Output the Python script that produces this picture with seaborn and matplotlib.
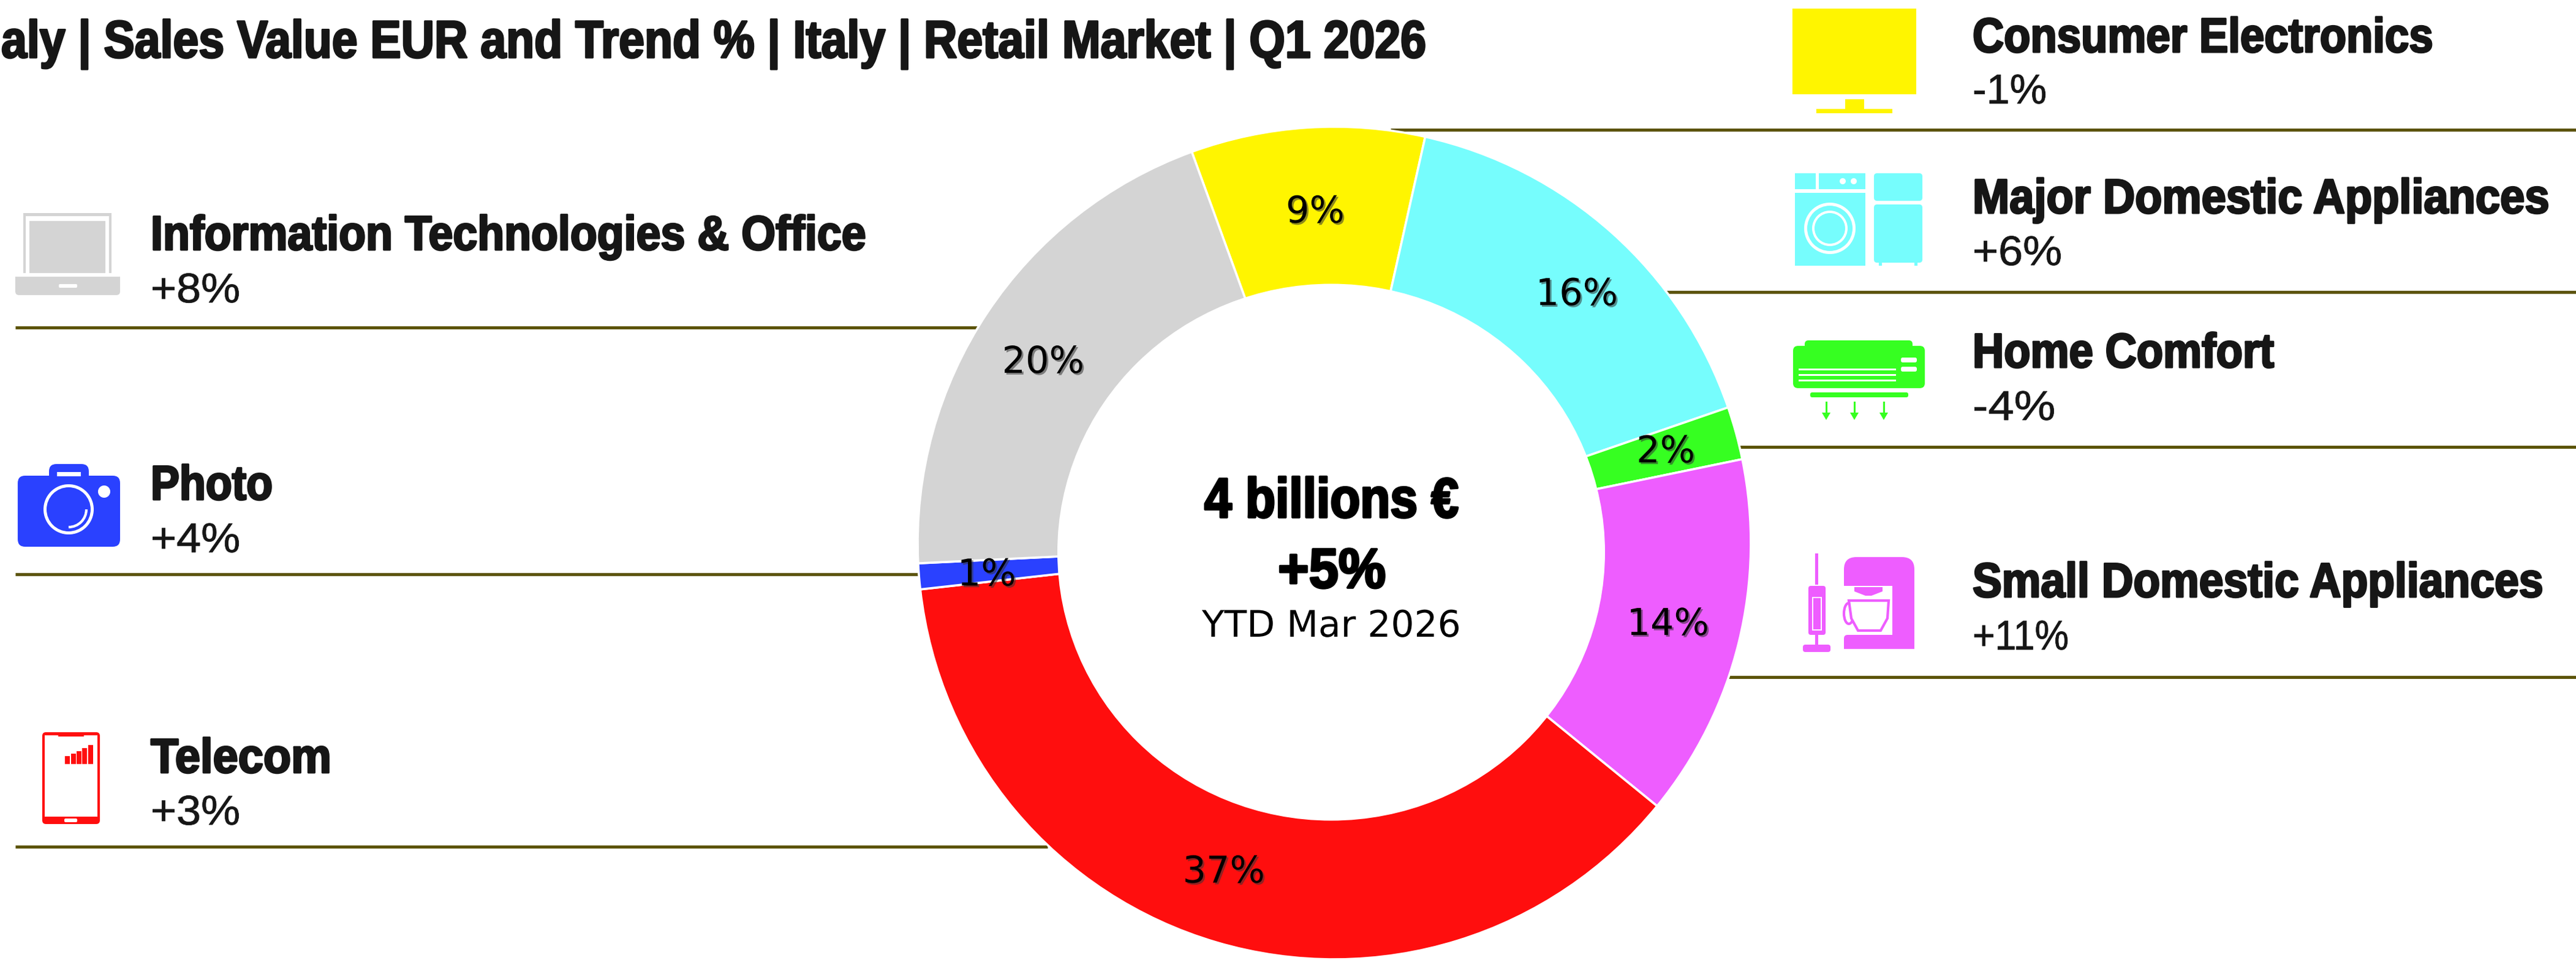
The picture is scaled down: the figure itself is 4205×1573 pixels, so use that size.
import matplotlib
matplotlib.use("Agg")
import matplotlib.pyplot as plt
import matplotlib.patheffects as pe
from matplotlib.patches import Rectangle, FancyBboxPatch, Ellipse, Polygon, Arc
from matplotlib.text import Text
from matplotlib.transforms import Affine2D, Bbox
import seaborn as sns

# ================= DATA =================
CATEGORIES = ["Consumer Electronics", "Major Domestic Appliances", "Home Comfort",
              "Small Domestic Appliances", "Telecom", "Photo",
              "Information Technologies & Office"]
SHARES = [9.05, 16.2, 2.05, 14.1, 37.3, 1.0, 20.2]
TRENDS = ["-1%", "+6%", "-4%", "+11%", "+3%", "+4%", "+8%"]

TITLE = "aly | Sales Value EUR and Trend % | Italy | Retail Market | Q1 2026"
CENTER_TOTAL = "4 billions €"
CENTER_TREND = "+5%"
CENTER_PERIOD = "YTD Mar 2026"

# ================= STYLE =================
W, H = 4205, 1573
COLORS = sns.color_palette(["#FFF500", "#76FDFD", "#36FF21", "#EE5DFF",
                            "#FF0E0E", "#2A41FF", "#D4D4D4"])
YELLOW, CYAN, GREEN, MAGENTA, RED, BLUE, GREY = COLORS
LINE_COLOR = "#5C5408"
TEXT_COLOR = "#161616"

# x of text, name baseline, name width, trend baseline, trend width, line start, line end, line y
LAYOUT = {
    "Consumer Electronics": (3220, 85, 752, 169, 121, 2270, W, 212),
    "Major Domestic Appliances": (3220, 348, 942, 433, 146, 2700, W, 477),
    "Home Comfort": (3220, 600, 492, 686, 135, 2840, W, 730),
    "Small Domestic Appliances": (3220, 975, 932, 1061, 157, 2820, W, 1106),
    "Telecom": (246, 1262, 295, 1347, 146, 25, 1710, 1383),
    "Photo": (246, 816, 199, 902, 146, 25, 1510, 938),
    "Information Technologies & Office": (246, 408, 1168, 494, 146, 25, 1610, 535),
}
# small pixel nudges of the percent labels, same order as SHARES
LABEL_DX = [5, 22, 0, 0, -22, -8, -8]
LABEL_DY = [20, 13, 0, 0, 0, 8, 16]

sns.set_theme(style="white")
plt.rcParams["font.family"] = ["Liberation Sans", "DejaVu Sans"]

fig = plt.figure(figsize=(W / 100, H / 100), dpi=100, facecolor="white")


# none of the installed fonts is condensed, so squeeze the glyphs sideways
class Squeeze(pe.AbstractPathEffect):
    def __init__(self, sx, stroke):
        super().__init__()
        self.sx = sx
        self.stroke = stroke

    def draw_path(self, renderer, gc, tpath, affine, rgbFace=None):
        gc0 = renderer.new_gc()
        gc0.copy_properties(gc)
        gc0.set_linewidth(self.stroke)
        if self.stroke:
            gc0.set_foreground(rgbFace)
        renderer.draw_path(gc0, tpath, Affine2D().scale(self.sx, 1) + affine, rgbFace)
        gc0.restore()


class FitText(Text):
    def __init__(self, x, y, text, width, stroke=0, **kw):
        super().__init__(x, y, text, va="baseline", ha="left", **kw)
        self.fig_width = width
        self.stroke = stroke
        self.sx = 1

    def fit(self):
        natural = super().get_window_extent(fig.canvas.get_renderer()).width
        self.sx = self.fig_width / natural
        self.set_path_effects([Squeeze(self.sx, self.stroke)])

    def get_window_extent(self, renderer=None, dpi=None):
        bb = super().get_window_extent(renderer, dpi)
        return Bbox.from_extents(bb.x0, bb.y0, bb.x0 + bb.width * self.sx, bb.y1)


def fit_text(axes, x, y, text, width, **kw):
    t = FitText(x, y, text, width, **kw)
    axes.add_artist(t)
    t.fit()
    return t


# ================= BACKGROUND LAYER (pixel coordinates) =================
bg = fig.add_axes([0, 0, 1, 1])
bg.set_xlim(0, W)
bg.set_ylim(H, 0)
bg.axis("off")

fit_text(bg, 2, 94, TITLE, 2326, fontsize=62, fontweight="bold", color=TEXT_COLOR, stroke=2.2)

for name, trend in zip(CATEGORIES, TRENDS):
    x, y_name, w_name, y_trend, w_trend, x0, x1, y_line = LAYOUT[name]
    fit_text(bg, x, y_name, name, w_name, fontsize=57, fontweight="bold", color=TEXT_COLOR, stroke=2.2)
    fit_text(bg, x, y_trend, trend, w_trend, fontsize=49, color=TEXT_COLOR, stroke=0.6)
    bg.plot([x0, x1], [y_line, y_line], color=LINE_COLOR, lw=3.6, solid_capstyle="butt")


def rect(x0, y0, x1, y1, color, z=2):
    bg.add_patch(Rectangle((x0, y0), x1 - x0, y1 - y0, fc=color, ec="none", zorder=z))


def rrect(x0, y0, x1, y1, color, r=8, z=2):
    bg.add_patch(FancyBboxPatch((x0 + r, y0 + r), x1 - x0 - 2 * r, y1 - y0 - 2 * r,
                                boxstyle=f"round,pad={r},rounding_size={r}",
                                fc=color, ec="none", zorder=z))


def disc(x, y, r, color, z=3):
    bg.add_patch(Ellipse((x, y), 2 * r, 2 * r, fc=color, ec="none", zorder=z))


# ================= ICONS =================
# tv
rect(2926, 14, 3128, 154, YELLOW)
rect(3012, 162, 3043, 180, YELLOW)
rect(2965, 178, 3089, 185, YELLOW)

# washing machine and fridge
rect(2930, 283, 3045, 309, CYAN)
rect(2964, 283, 2969, 309, "white", 3)
disc(3008, 296, 5, "white")
disc(3026, 296, 5, "white")
rect(2930, 315, 3045, 434, CYAN)
disc(2987, 373, 42, "white")
disc(2987, 373, 37, CYAN, 4)
disc(2987, 373, 29, "white", 5)
disc(2987, 373, 25, CYAN, 6)
rrect(3059, 283, 3138, 328, CYAN, 5)
rrect(3059, 334, 3138, 429, CYAN, 5)
rect(3067, 429, 3072, 434, CYAN)
rect(3125, 429, 3130, 434, CYAN)

# air conditioner
rrect(2927, 565, 3142, 634, GREEN, 8)
rrect(2946, 556, 3122, 580, GREEN, 6)
for y in (603, 612, 621):
    rect(2936, y - 1.5, 3095, y + 1.5, "white", 3)
rrect(3103, 584, 3129, 592, "white", 3, 3)
rrect(3103, 599, 3129, 607, "white", 3, 3)
rrect(2955, 641, 3115, 649, GREEN, 3)
for x in (2981, 3027, 3075):
    rect(x - 1.5, 656, x + 1.5, 676, GREEN)
    bg.add_patch(Polygon([(x - 7, 674), (x + 7, 674), (x, 686)], fc=GREEN, ec="none"))

# coffee machine and stick vacuum
rrect(3010, 910, 3125, 975, MAGENTA, 20)
rect(3010, 957, 3089, 980, "white", 3)
rect(3089, 950, 3125, 1060, MAGENTA)
rrect(3010, 1037, 3125, 1060, MAGENTA, 6)
rect(3010, 1045, 3125, 1060, MAGENTA)
bg.add_patch(Polygon([(3027, 959), (3073, 959), (3073, 966), (3055, 973), (3045, 973), (3027, 966)],
                     fc=MAGENTA, ec="none", zorder=4))
bg.add_patch(Polygon([(3018, 981), (3083, 981), (3081, 1010), (3070, 1030), (3033, 1030), (3022, 1010)],
                     fc="white", ec=MAGENTA, lw=3, zorder=4))
bg.add_patch(Ellipse((3018, 1002), 16, 34, fc="none", ec=MAGENTA, lw=3, zorder=3))
rect(2963, 904, 2968, 955, MAGENTA)
rrect(2952, 957, 2980, 1037, MAGENTA, 4)
rect(2958, 975, 2974, 1030, "white", 3)
rect(2960, 977, 2972, 1028, MAGENTA, 4)
rect(2963, 1037, 2968, 1053, MAGENTA)
rrect(2943, 1053, 2988, 1065, MAGENTA, 4)

# laptop
rect(38, 348, 182, 446, GREY)
rect(42, 353, 178, 446, "white", 3)
rect(48, 361, 172, 446, GREY, 4)
rrect(25, 452, 196, 482, GREY, 6)
rect(25, 452, 196, 465, GREY)
rrect(96, 464, 126, 470, "white", 2, 3)

# camera
rrect(29, 777, 196, 893, BLUE, 12)
rrect(80, 758, 145, 790, BLUE, 12)
rect(93, 771, 132, 778, "white", 3)
disc(112, 832, 41, "white")
disc(112, 832, 36, BLUE, 4)
disc(170, 803, 10, "white")
bg.add_patch(Arc((112, 832), 58, 58, theta1=0, theta2=90, color="white", lw=3, zorder=5))

# phone
rrect(69, 1196, 163, 1346, RED, 6)
rect(73, 1201, 159, 1334, "white", 3)
rect(95, 1196, 137, 1203, RED, 4)
rrect(105, 1337, 126, 1343, "white", 2, 3)
for x, y_top in zip((106, 116, 125, 134, 144), (1235, 1231, 1227, 1222, 1217)):
    rect(x, y_top, x + 8, 1248, RED, 4)

# ================= DONUT =================
cx, cy, radius = 2178, 887, 680
ax = fig.add_axes([(cx - radius * 1.01) / W, 1 - (cy + radius * 1.01) / H,
                   2.02 * radius / W, 2.02 * radius / H])
ax.patch.set_alpha(0)
wedges, _, pct_texts = ax.pie(SHARES, colors=COLORS, startangle=110, counterclock=False,
                              autopct="%.0f%%", pctdistance=0.825,
                              wedgeprops={"edgecolor": "white", "linewidth": 2.6})
ax.set_xlim(-1.01, 1.01)
ax.set_ylim(-1.01, 1.01)
ax.set_aspect("auto")
ax.add_patch(Ellipse(((2173 - cx) / radius, (cy - 902) / radius), 894 / radius, 877 / radius,
                     fc="white", ec="none", zorder=5))

shadow = [pe.withSimplePatchShadow(offset=(2, -2), shadow_rgbFace="#333333", alpha=0.55)]
for t, dx, dy in zip(pct_texts, LABEL_DX, LABEL_DY):
    px, py = t.get_position()
    t.set_position((px + dx / radius, py - dy / radius))
    t.set(fontsize=43.5, color="black", family=["DejaVu Sans"], zorder=6)
    t.set_path_effects(shadow)


def center_text(x, y, text, width, **kw):
    fit_text(ax, (x - cx) / radius, (cy - y) / radius, text, width, color="black", zorder=7, **kw)


center_text(1966, 845, CENTER_TOTAL, 415, fontsize=66, fontweight="bold", stroke=2.6)
center_text(2086, 960, CENTER_TREND, 176, fontsize=66, fontweight="bold", stroke=2.6)
center_text(1962, 1040, CENTER_PERIOD, 423, fontsize=43, family=["DejaVu Sans"])

fig.savefig("out.png", dpi=100, facecolor="white")
